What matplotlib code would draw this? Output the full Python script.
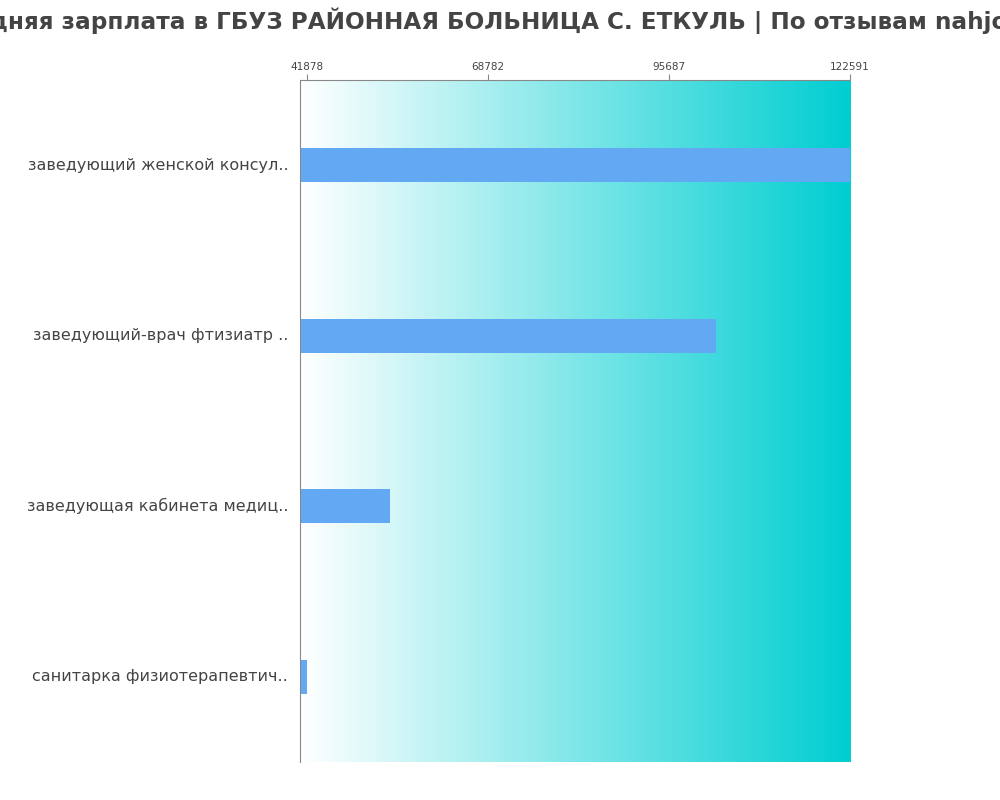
import numpy as np
import matplotlib
matplotlib.use('Agg')
import matplotlib.pyplot as plt
from matplotlib.colors import LinearSegmentedColormap

plt.rcParams['font.family'] = ['DejaVu Sans']

# Data
jobs = ['заведующий женской консул..',
        'заведующий-врач фтизиатр ..',
        'заведующая кабинета медиц..',
        'санитарка физиотерапевтич..']
salaries = [122591, 102670, 54210, 41878]
tick_values = [41878, 68782, 95687, 122591]

title = 'Средняя зарплата в ГБУЗ РАЙОННАЯ БОЛЬНИЦА С. ЕТКУЛЬ | По отзывам nahjob.ru'
text_color = '#444444'

fig = plt.figure(figsize=(10, 8), dpi=100)
ax = fig.add_axes([0.3, 0.0475, 0.55, 0.8525])

x_min = min(salaries) * 0.975
x_max = max(salaries)

# gradient background white -> turquoise
cmap = LinearSegmentedColormap.from_list('bg', ['#ffffff', '#00ced1'])
grad = np.linspace(0, 1, 256).reshape(1, -1)
ax.imshow(grad, aspect='auto', cmap=cmap, extent=[x_min, x_max, len(jobs) - 0.5, -0.5],
          zorder=0)

y = np.arange(len(jobs))
ax.barh(y, [s - x_min for s in salaries], left=x_min, height=0.2,
        color='#62a8f3', zorder=2)

ax.set_xlim(x_min, x_max)
ax.set_ylim(len(jobs) - 0.5, -0.5)

ax.set_yticks(y)
ax.set_yticklabels(jobs, fontsize=11.5, color=text_color, va='center')
ax.tick_params(axis='y', length=0, pad=8.5)

ax.xaxis.tick_top()
ax.set_xticks(tick_values)
ax.set_xticklabels([str(v) for v in tick_values], fontsize=7.5, color=text_color)
ax.tick_params(axis='x', length=4, color='#888888', pad=1.5)

for side in ['right', 'bottom']:
    ax.spines[side].set_visible(False)
for side in ['left', 'top']:
    ax.spines[side].set_color('#888888')

fig.suptitle(title, fontsize=16.7, fontweight='bold', color=text_color, x=0.5, y=0.99)

fig.savefig('out.png', dpi=100)
